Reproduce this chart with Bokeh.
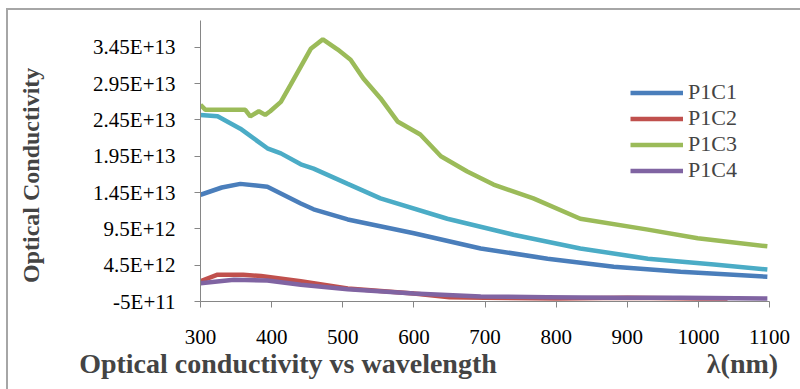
import math
from bokeh.plotting import figure
from bokeh.models import FixedTicker, Legend, LegendItem, LinearAxis
from bokeh.embed import file_html
from bokeh.resources import INLINE

# ---- data (values in units of 1E13) ----
wl_c1 = [300, 330, 356, 394, 441, 459, 507, 600, 694, 788, 881, 975, 1097]
p1c1 = [1.42, 1.52, 1.57, 1.53, 1.30, 1.22, 1.08, 0.89, 0.68, 0.54, 0.43, 0.36, 0.29]

wl_c2 = [300, 324, 360, 385, 441, 507, 600, 650, 700, 800, 900, 1000, 1041]
p1c2 = [0.23, 0.32, 0.32, 0.30, 0.23, 0.13, 0.06, 0.01, 0.00, -0.01, 0.00, -0.01, -0.01]

wl_c3 = [300, 307, 363, 370, 382, 391, 398, 413, 427, 455, 472, 493, 511, 529,
         553, 577, 609, 638, 675, 712, 768, 834, 929, 999, 1097]
p1c3 = [2.66, 2.59, 2.59, 2.50, 2.57, 2.52, 2.57, 2.70, 2.94, 3.43, 3.56, 3.42, 3.28, 3.02,
        2.75, 2.43, 2.25, 1.95, 1.74, 1.56, 1.37, 1.09, 0.94, 0.82, 0.71]

wl_c4 = [300, 347, 394, 441, 507, 600, 694, 788, 881, 975, 1097]
p1c4 = [0.20, 0.25, 0.24, 0.18, 0.12, 0.06, 0.02, 0.01, 0.00, 0.00, -0.01]

wl_extra = [300, 324, 356, 394, 413, 441, 459, 507, 553, 647, 740, 834, 929, 1022, 1097]
extra = [2.52, 2.50, 2.33, 2.06, 1.99, 1.84, 1.78, 1.57, 1.37, 1.09, 0.87, 0.68, 0.54, 0.46, 0.39]

x_ticks = [300, 400, 500, 600, 700, 800, 900, 1000, 1100]
y_ticks = [-5e11, 4.5e12, 9.5e12, 1.45e13, 1.95e13, 2.45e13, 2.95e13, 3.45e13]
y_tick_labels = ["-5E+11", "4.5E+12", "9.5E+12", "1.45E+13", "1.95E+13",
                 "2.45E+13", "2.95E+13", "3.45E+13"]

series_names = ["P1C1", "P1C2", "P1C3", "P1C4"]
colors = ["#4A7EBB", "#C0504D", "#9BBB59", "#8064A2"]
extra_color = "#4BACC6"

x_title = "Optical conductivity vs wavelength"
x_unit = "λ(nm)"
y_title = "Optical Conductivity"
# axis-value anchors for the titles
x_title_at = 423
x_unit_at = 1062
y_title_at = 3.17e13

SCALE = 1e13
FONT = "Liberation Serif"

p = figure(width=800, height=389, x_range=(300, 1100), y_range=(-5e11, 3.82e13),
           output_backend="svg", toolbar_location=None,
           min_border_left=200, min_border_right=31, min_border_top=20, min_border_bottom=88)
p.outline_line_color = None
p.xgrid.visible = False
p.ygrid.visible = False
p.background_fill_color = "white"
p.border_fill_alpha = 0
p.styles = {
    "background": ("linear-gradient(#a6a6a6,#a6a6a6) 6px 8px / 794px 2px no-repeat, "
                   "linear-gradient(#a6a6a6,#a6a6a6) 6px 8px / 2px 381px no-repeat, white"),
}

renderers = []
for wl, vals, c in [(wl_c1, p1c1, colors[0]), (wl_c2, p1c2, colors[1]),
                    (wl_c3, p1c3, colors[2]), (wl_c4, p1c4, colors[3])]:
    r = p.line(wl, [v * SCALE for v in vals], line_color=c, line_width=4.5)
    renderers.append(r)
p.line(wl_extra, [v * SCALE for v in extra], line_color=extra_color, line_width=4.5)

for ax in (p.xaxis[0], p.yaxis[0]):
    ax.axis_line_color = "#868686"
    ax.major_tick_line_color = "#868686"
    ax.minor_tick_line_color = None
    ax.major_tick_in = 0
    ax.major_tick_out = 6
    ax.major_label_text_font = FONT
    ax.major_label_text_font_size = "21px"
    ax.major_label_text_color = "black"

p.xaxis[0].ticker = FixedTicker(ticks=x_ticks)
p.xaxis[0].major_label_standoff = 22
p.yaxis[0].ticker = FixedTicker(ticks=y_ticks)
p.yaxis[0].major_label_overrides = {t: l for t, l in zip(y_ticks, y_tick_labels)}
p.yaxis[0].major_label_standoff = 19

# title rows drawn as extra axes (text only)
xt = LinearAxis(ticker=FixedTicker(ticks=[x_title_at, x_unit_at]),
                major_label_overrides={x_title_at: x_title, x_unit_at: x_unit},
                axis_line_color=None, major_tick_line_color=None, minor_tick_line_color=None,
                major_label_text_font=FONT, major_label_text_font_size="28px",
                major_label_text_font_style="bold", major_label_standoff=-5)
p.add_layout(xt, "below")

yt = LinearAxis(ticker=FixedTicker(ticks=[y_title_at]),
                major_label_overrides={y_title_at: y_title},
                major_label_orientation=math.pi / 2,
                axis_line_color=None, major_tick_line_color=None, minor_tick_line_color=None,
                major_label_text_font=FONT, major_label_text_font_size="24px",
                major_label_text_font_style="bold", major_label_standoff=53)
p.add_layout(yt, "left")

legend = Legend(items=[LegendItem(label=n, renderers=[r]) for n, r in zip(series_names, renderers)],
                location=(430, 118), border_line_color=None, background_fill_alpha=0,
                label_text_font=FONT, label_text_font_size="22px", label_height=25,
                glyph_width=53, glyph_height=25, label_standoff=5, spacing=0,
                padding=0, margin=0)
p.add_layout(legend)

open("out.html", "w").write(file_html(p, INLINE))
